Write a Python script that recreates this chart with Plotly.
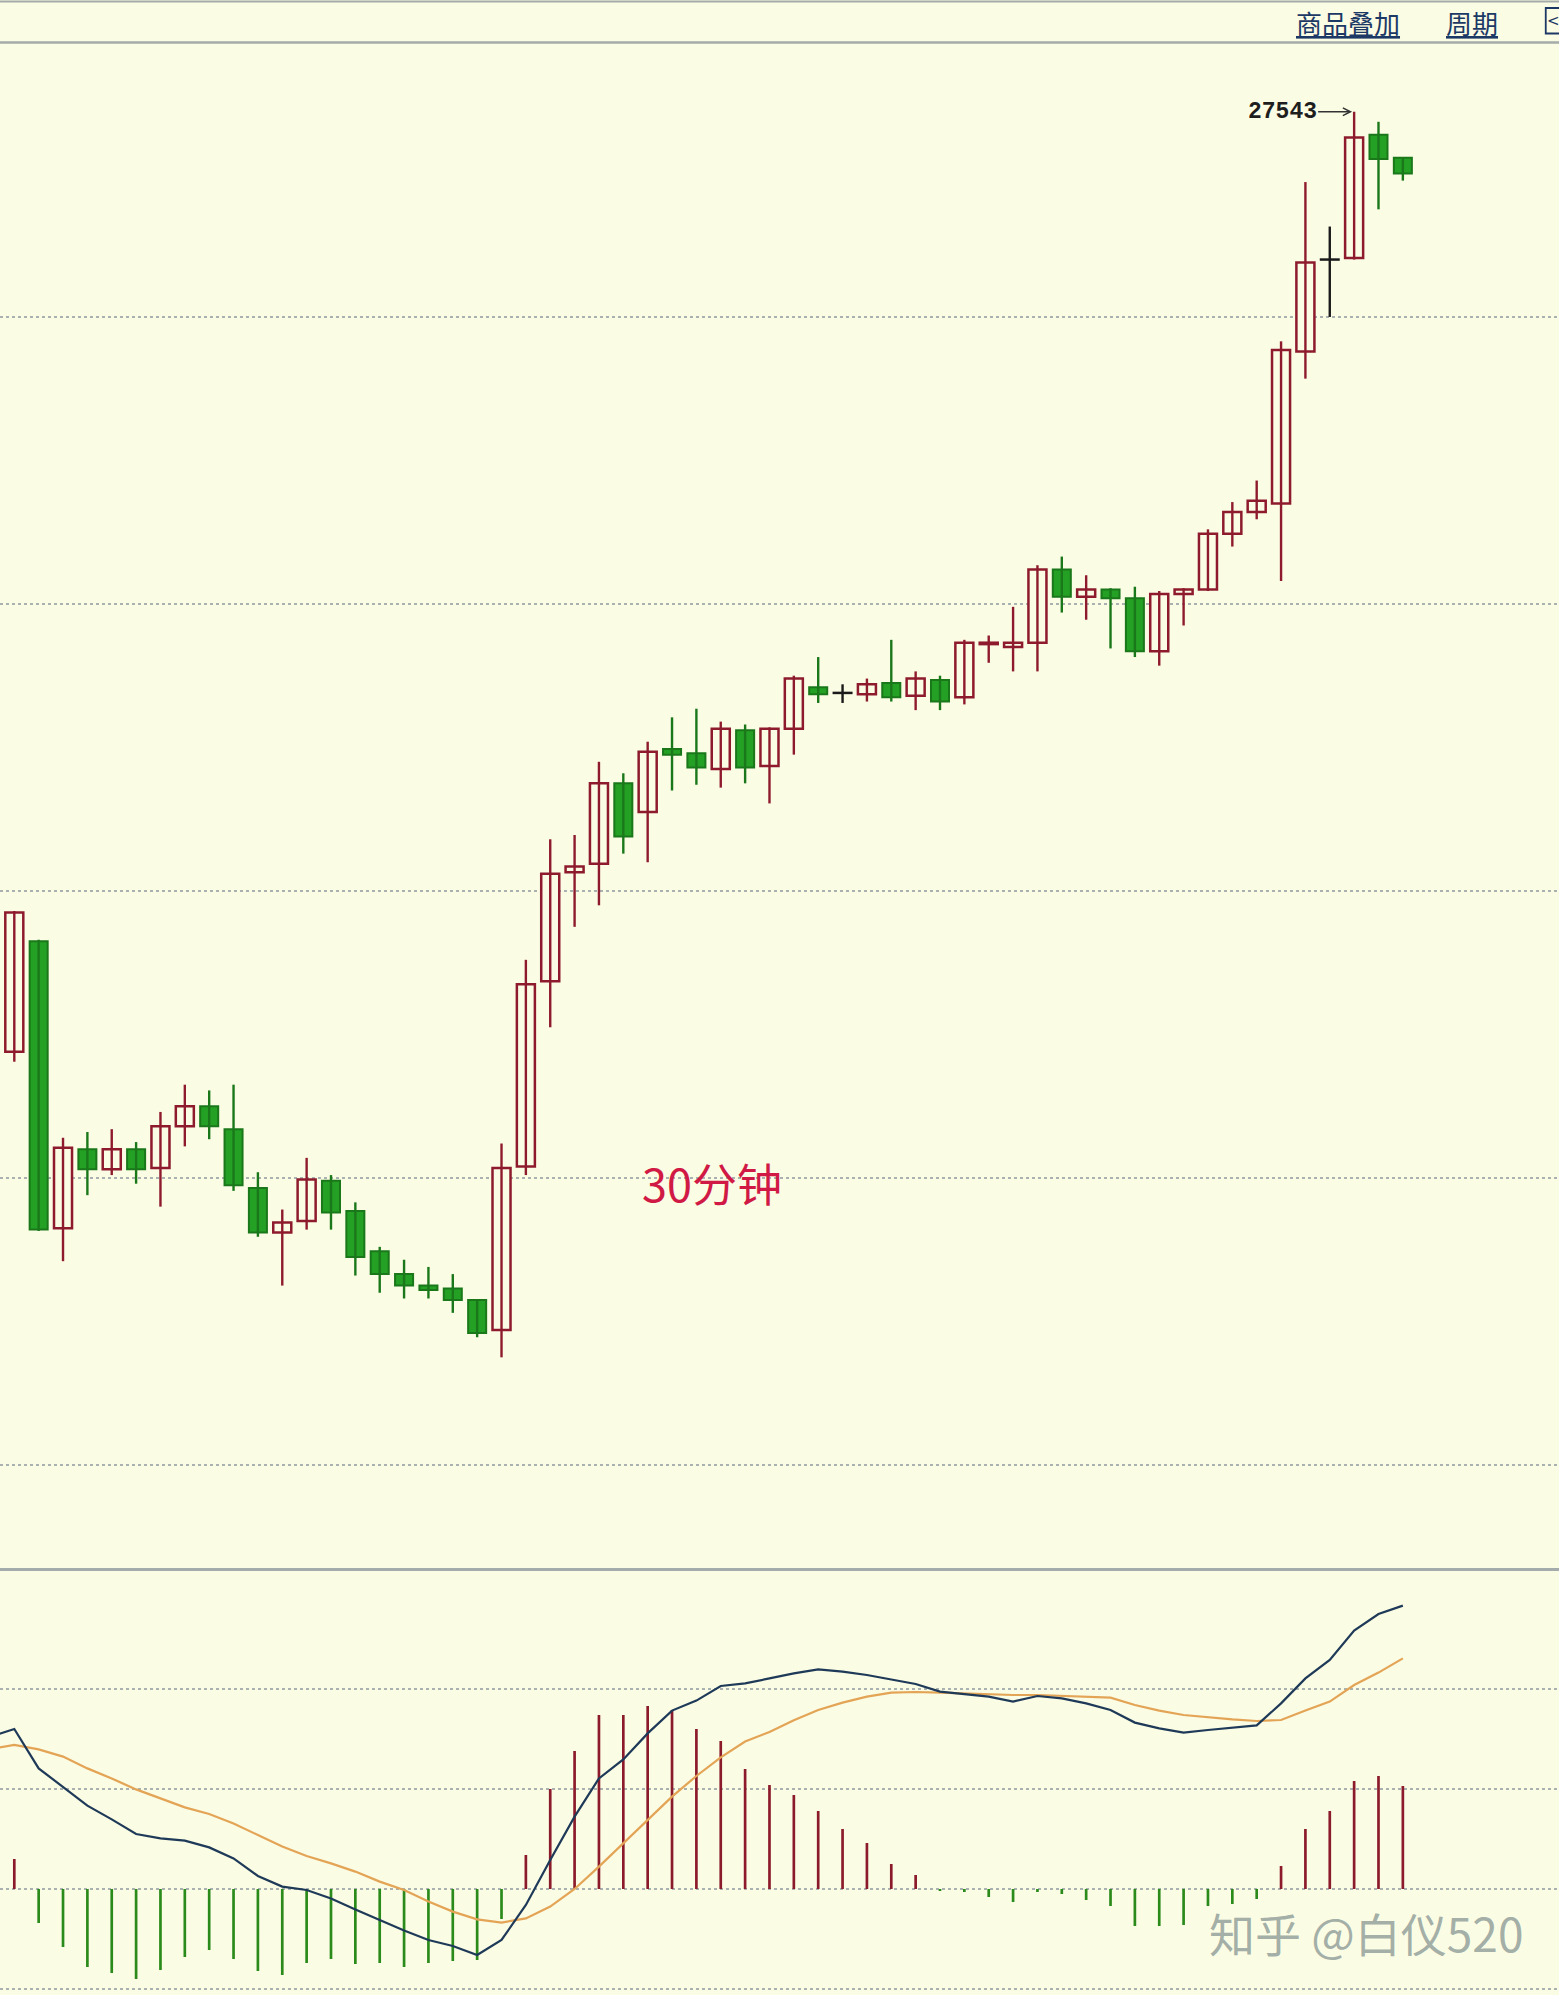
import plotly.graph_objects as go

# ---------------- data ----------------
opens = [26888, 26965, 26765, 26820, 26806, 26820, 26807, 26836, 26850, 26834,
         26793, 26762, 26770, 26798, 26777, 26749, 26733, 26725, 26723, 26715,
         26694, 26808, 26937, 27013, 27019, 27075, 27055, 27099, 27096, 27085,
         27112, 27087, 27113, 27142, 27138, 27137, 27145, 27136, 27147, 27135,
         27172, 27170, 27173, 27224, 27205, 27210, 27204, 27167, 27207, 27210,
         27249, 27264, 27270, 27376, 27440, 27441, 27527, 27511]
highs = [26986, 26966, 26828, 26832, 26834, 26825, 26846, 26865, 26861, 26865,
         26804, 26778, 26814, 26802, 26783, 26752, 26743, 26738, 26733, 26715,
         26824, 26952, 27036, 27039, 27090, 27082, 27104, 27121, 27127, 27118,
         27116, 27114, 27150, 27163, 27144, 27148, 27175, 27153, 27150, 27175,
         27178, 27198, 27227, 27233, 27220, 27211, 27212, 27209, 27211, 27252,
         27271, 27286, 27383, 27494, 27463, 27543, 27536, 27511]
lows = [26881, 26763, 26742, 26788, 26802, 26796, 26780, 26822, 26827, 26791,
        26759, 26725, 26764, 26764, 26732, 26720, 26716, 26716, 26706, 26689,
        26675, 26802, 26905, 26975, 26990, 27026, 27020, 27070, 27074, 27072,
        27075, 27061, 27095, 27131, 27131, 27132, 27132, 27126, 27126, 27130,
        27159, 27153, 27153, 27194, 27189, 27169, 27163, 27157, 27185, 27209,
        27240, 27259, 27216, 27357, 27400, 27440, 27475, 27495]
closes = [26985, 26764, 26821, 26806, 26820, 26806, 26836, 26850, 26836, 26795,
          26762, 26769, 26799, 26776, 26745, 26733, 26725, 26722, 26715, 26692,
          26807, 26935, 27012, 27017, 27075, 27038, 27097, 27095, 27086, 27113,
          27086, 27113, 27148, 27137, 27138, 27144, 27135, 27148, 27132, 27173,
          27173, 27173, 27224, 27205, 27210, 27204, 27167, 27207, 27210, 27249,
          27264, 27272, 27377, 27438, 27440, 27525, 27510, 27500]

macd_hist = [15, -17, -29, -39, -42, -45, -40.5, -34, -30.5, -35,
             -41, -43, -37, -35, -37.5, -37, -39, -37, -36, -35.5,
             -15, 17, 50, 69, 87, 87, 91.5, 89.5, 80, 74,
             60, 52, 47, 39, 30, 23, 12.5, 7, -0.5, -1.5,
             -4, -6.5, -1.5, -2.5, -5.5, -8.5, -18.5, -18.5, -18, -8.5,
             -7.5, -5, 11.5, 30, 39, 54, 56.5, 51.5]
# DIF / DEA start one bar before the first visible candle
dif = [76, 80, 60.3, 51.2, 41.7, 34.8, 27.5, 25.3, 24.2, 20.8,
       15.3, 6.5, 1.2, -0.5, -4.7, -10.2, -15.5, -20.8, -25.5, -28.5,
       -33, -25.5, -8, 14.5, 36.2, 55.3, 64.8, 77.8, 89.2, 94.2,
       101.5, 102.8, 105.3, 107.8, 109.8, 108.7, 107, 104.8, 102.5, 98.7,
       97.3, 96.2, 93.7, 96.5, 95.3, 92.8, 89.5, 83.2, 80.3, 78.2,
       79.5, 80.8, 81.8, 92.8, 105.3, 114.5, 129.2, 137.5, 141.7]
dea = [70, 72, 69.8, 66.2, 60.3, 55.3, 49.8, 45.3, 40.8, 37.5,
       32.8, 27, 21.2, 16.5, 12.8, 8.7, 3.7, -0.5, -6.3, -11.3,
       -15.2, -16.8, -14.7, -8.8, 0, 11.2, 22.8, 34.5, 46.2, 56.5,
       65.8, 73.7, 78.5, 84.4, 89.5, 93.2, 96.2, 98.2, 98.5, 98.2,
       97.8, 97.3, 97, 97, 96.5, 96.2, 95.7, 92, 89.2, 87,
       85.8, 84.8, 84, 84.5, 89.2, 93.7, 102, 108.2, 115.3]

price_grid = [26600, 26800, 27000, 27200, 27400]
macd_grid = [-50, 0, 50, 100]

period_label = "30分钟"
header_items = ["商品叠加", "周期"]
watermark = "知乎 @白仪520"

# ---------------- styles ----------------
BG = "#FBFCE4"
RED = "#8E1B2D"
GREEN_FILL = "#24A024"
GREEN_LINE = "#1A781A"
BLACK = "#1A1A1A"
GRID = "#A9B2B0"
DIF_COLOR = "#1E3A58"
DEA_COLOR = "#E3A456"
HIST_RED = "#8B1A2B"
HIST_GREEN = "#2A8A1A"

N = len(opens)
idx = list(range(N))
line_idx = list(range(-1, N))

up = [i for i in idx if closes[i] > opens[i]]
down = [i for i in idx if closes[i] < opens[i]]
doji = [i for i in idx if closes[i] == opens[i]]


def wicks(ids):
    xs, ys = [], []
    for i in ids:
        xs += [i, i, None]
        ys += [lows[i], highs[i], None]
    return xs, ys


BODY_W = 0.74

fig = go.Figure()

# wicks
for ids, col in ((up, RED), (down, GREEN_LINE), (doji, BLACK)):
    wx, wy = wicks(ids)
    fig.add_trace(go.Scatter(x=wx, y=wy, mode="lines",
                             line=dict(color=col, width=2.4),
                             hoverinfo="skip", xaxis="x", yaxis="y"))

# bodies
fig.add_trace(go.Bar(x=up, base=[opens[i] for i in up],
                     y=[closes[i] - opens[i] for i in up],
                     width=BODY_W,
                     marker=dict(color=BG, line=dict(color=RED, width=2.5)),
                     xaxis="x", yaxis="y"))
fig.add_trace(go.Bar(x=down, base=[closes[i] for i in down],
                     y=[opens[i] - closes[i] for i in down],
                     width=BODY_W,
                     marker=dict(color=GREEN_FILL, line=dict(color=GREEN_LINE, width=2)),
                     xaxis="x", yaxis="y"))
# doji cross bars
dx, dy = [], []
for i in doji:
    dx += [i - BODY_W / 2 - 0.04, i + BODY_W / 2 + 0.04, None]
    dy += [opens[i], opens[i], None]
fig.add_trace(go.Scatter(x=dx, y=dy, mode="lines",
                         line=dict(color=BLACK, width=2.5),
                         hoverinfo="skip", xaxis="x", yaxis="y"))

# MACD histogram
pos = [i for i in idx if macd_hist[i] >= 0]
neg = [i for i in idx if macd_hist[i] < 0]
fig.add_trace(go.Bar(x=pos, y=[macd_hist[i] for i in pos], width=0.11,
                     marker=dict(color=HIST_RED, line=dict(width=0)),
                     xaxis="x2", yaxis="y2"))
fig.add_trace(go.Bar(x=neg, y=[macd_hist[i] for i in neg], width=0.11,
                     marker=dict(color=HIST_GREEN, line=dict(width=0)),
                     xaxis="x2", yaxis="y2"))
fig.add_trace(go.Scatter(x=line_idx, y=dea, mode="lines",
                         line=dict(color=DEA_COLOR, width=2.2),
                         xaxis="x2", yaxis="y2"))
fig.add_trace(go.Scatter(x=line_idx, y=dif, mode="lines",
                         line=dict(color=DIF_COLOR, width=2.2),
                         xaxis="x2", yaxis="y2"))

X_RANGE = [-0.587, 63.41]
MAIN_DOM = [0.21404, 0.97794]
MACD_DOM = [0.0, 0.21404]

fig.update_layout(
    width=1559, height=1995,
    margin=dict(l=0, r=0, t=0, b=0),
    paper_bgcolor=BG, plot_bgcolor=BG,
    showlegend=False, barmode="overlay", hovermode=False,
    xaxis=dict(domain=[0, 1], range=X_RANGE, anchor="y", visible=False),
    yaxis=dict(domain=MAIN_DOM, range=[26528.2, 27590.2], anchor="x",
               tickvals=price_grid, showticklabels=False, ticks="",
               showgrid=True, gridcolor=GRID, griddash="dot", gridwidth=1.6,
               zeroline=False, showline=False),
    xaxis2=dict(domain=[0, 1], range=X_RANGE, anchor="y2", matches="x", visible=False),
    yaxis2=dict(domain=MACD_DOM, range=[-53, 160.5], anchor="x2",
                tickvals=macd_grid, showticklabels=False, ticks="",
                showgrid=True, gridcolor=GRID, griddash="dot", gridwidth=1.6,
                zeroline=False, showline=False),
)

# frame lines (header band and panel separator)
for yv, w in ((0.99925, 2), (0.97870, 2.5), (0.21328, 3)):
    fig.add_shape(type="line", xref="paper", yref="paper", x0=0, x1=1, y0=yv, y1=yv,
                  line=dict(color="#A3ACAA", width=w))

# header links
for txt, xc in zip(header_items, (0.8647, 0.9442)):
    fig.add_annotation(xref="paper", yref="paper", x=xc, y=0.98897,
                       xanchor="center", yanchor="middle",
                       text="<span style='text-decoration:underline'>%s</span>" % txt,
                       showarrow=False,
                       font=dict(family="Noto Sans CJK SC", size=26, color="#1C3966"))
# small button at right edge
fig.add_shape(type="rect", xref="paper", yref="paper", x0=0.9915, x1=1.005,
              y0=0.9832, y1=0.9960, line=dict(color="#1C3966", width=1.8))
fig.add_annotation(xref="paper", yref="paper", x=0.9965, y=0.9896, text="&lt;",
                   xanchor="center", yanchor="middle",
                   showarrow=False, font=dict(family="DejaVu Sans", size=15, color="#1C3966"))

# highest price marker
imax = highs.index(max(highs))
fig.add_annotation(x=imax, y=highs[imax], xref="x", yref="y",
                   text="<b>%d</b>" % highs[imax], showarrow=True,
                   ax=-72, ay=0, arrowhead=5, arrowsize=1, arrowwidth=1.5,
                   arrowcolor="#333333", standoff=2,
                   font=dict(family="Liberation Mono", size=23, color="#1E1E1E"))

# period label
fig.add_annotation(xref="paper", yref="paper", x=0.4567, y=0.4075, text=period_label,
                   xanchor="center", yanchor="middle", showarrow=False,
                   font=dict(family="Noto Sans CJK SC", size=45, color="#D01A45"))

# watermark
fig.add_annotation(xref="paper", yref="paper", x=0.876, y=0.0316, text=watermark,
                   xanchor="center", yanchor="middle", showarrow=False,
                   font=dict(family="Noto Sans CJK SC", size=46, color="rgba(140,154,150,0.8)"))

fig.write_html("out.html", config={"displayModeBar": False},
               post_script="document.body.style.margin='0';document.body.style.overflow='hidden';")
